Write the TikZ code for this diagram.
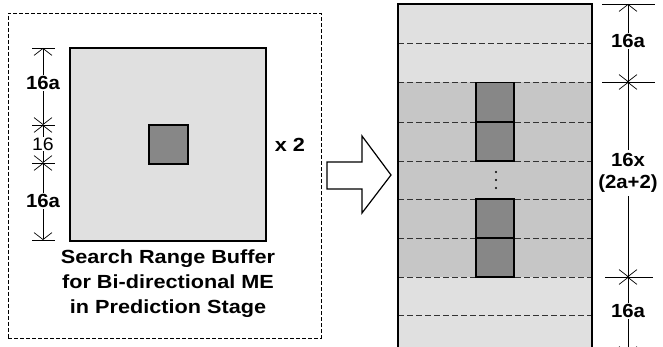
\documentclass[tikz,border=0pt]{standalone}
\usepackage{fontspec}
\setmainfont{Liberation Sans}
\usetikzlibrary{arrows.meta}
\definecolor{lightbuf}{HTML}{E0E0E0}
\definecolor{bandbuf}{HTML}{C6C6C6}
\definecolor{darkblk}{HTML}{878787}
\newcommand{\wlab}[1]{\scalebox{1.07}[1]{#1}}
\newcommand{\wcap}[1]{\scalebox{1.14}[1]{#1}}
\begin{document}
\begin{tikzpicture}[x=1pt,y=-1pt,
  buf/.style={draw=black,line width=1.2pt,fill=lightbuf,inner sep=0pt},
  blk/.style={draw=black,line width=1.2pt,fill=darkblk,inner sep=0pt,minimum width=38pt,minimum height=39pt},
  outerbox/.style={draw=black,dashed,dash pattern=on 4pt off 2pt,line width=0.8pt,inner sep=0pt},
  sep/.style={draw=black!80,dash pattern=on 6pt off 3pt,line width=0.8pt},
  dimline/.style={draw=black,line width=0.7pt,{Straight Barb[length=7pt,width=18pt]}-{Straight Barb[length=7pt,width=18pt]}},
  tick/.style={draw=black,line width=0.7pt},
  blab/.style={font=\bfseries\fontsize{19}{22}\selectfont,fill=white,inner sep=1pt,align=center},
  rlab/.style={font=\fontsize{18}{20}\selectfont,fill=white,inner sep=1pt},
  captext/.style={font=\bfseries\fontsize{19}{25}\selectfont,inner sep=0pt},
  barrow/.style={draw=black,line width=1.2pt,fill=white,line join=miter}
]
\useasboundingbox (0,0) rectangle (663,347);
% left outer dashed box
\node[outerbox,minimum width=313pt,minimum height=325pt] (outer) at (164.5,175.5) {};
% search range buffer
\node[buf,minimum width=196pt,minimum height=193pt] (sq) at (168,144.5) {};
\node[blk,minimum width=39pt] (cblk) at (168.5,144.5) {};
\node[captext] (caption) at (168,283) {\wcap{\begin{tabular}{@{}c@{}}Search Range Buffer\\for Bi-directional ME\\in Prediction Stage\end{tabular}}};
\node[font=\bfseries\fontsize{19}{22}\selectfont,inner sep=0pt] (times) at (290,145) {\wcap{x 2}};
% left dimension
\coordinate (l0) at (43,48);
\coordinate (l1) at (43,125);
\coordinate (l2) at (43,163);
\coordinate (l3) at (43,240);
\foreach \c in {l0,l1,l2,l3} \draw[tick] ([xshift=-11pt]\c) -- ([xshift=12pt]\c);
\draw[dimline] (l0) -- (l1);
\draw[dimline] (l1) -- (l2);
\draw[dimline] (l2) -- (l3);
\node[blab] (la) at (43,83) {\wlab{16a}};
\node[rlab] (lb) at (43,144) {\scalebox{1.08}[1]{16}};
\node[blab] (lc) at (43,201) {\wlab{16a}};
% block arrow
\draw[barrow] (327,162) -- (362,162) -- (362,136) -- (391,175) -- (362,213) -- (362,189) -- (327,189) -- cycle;
% right buffer
\coordinate (rtl) at (398,4);
\coordinate (rbr) at (592,360);
\fill[lightbuf] (rtl) rectangle (rbr);
\fill[bandbuf] (398,82) rectangle (592,277);
\foreach \yy in {43,82,122,161,199,238,277,315} \draw[sep] (398,\yy) -- (592,\yy);
\node[blk] (b1) at (495,102) {};
\node[blk] (b2) at (495,141.5) {};
\node[blk] (b3) at (495,218.5) {};
\node[blk] (b4) at (495,257.5) {};
\foreach \yy in {172,180,188} \fill (496,\yy) circle (1.2pt);
\draw[line width=1.2pt] (398,360) -- (rtl) -- (592,4) -- (592,360);
% right dimension
\coordinate (r0) at (628,4);
\coordinate (r1) at (628,82);
\coordinate (r2) at (628,277);
\coordinate (r3) at (628,354);
\draw[tick] (602,4) -- (655,4);
\draw[tick] (602,82) -- (655,82);
\draw[tick] (605,277) -- (653,277);
\draw[dimline] (r0) -- (r1);
\draw[dimline] (r1) -- (r2);
\draw[dimline] (r2) -- (r3);
\fill (r1) circle (1.3pt);
\fill (r2) circle (1.3pt);
\node[blab] (ra) at (628,41) {\wlab{16a}};
\node[blab,inner sep=1pt] (rb) at (628,173.5) {\wlab{\begin{tabular}{@{}c@{}}16x\\(2a+2)\end{tabular}}};
\node[blab] (rc) at (628,311) {\wlab{16a}};
\end{tikzpicture}
\end{document}
